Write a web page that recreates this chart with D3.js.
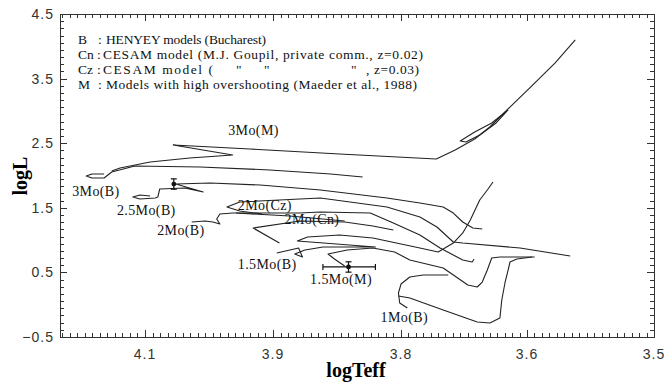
<!DOCTYPE html>
<html>
<head>
<meta charset="utf-8">
<script src="https://cdn.jsdelivr.net/npm/d3@7/dist/d3.min.js"></script>
<style>
  body { margin: 0; background: #fff; }
  svg { display: block; }
</style>
</head>
<body>
<div id="chart"></div>
<script>
// axis ticks as printed on the original figure (note the uneven logTeff labels)
const xTicks = [4.1, 3.9, 3.8, 3.6, 3.5];
const yTicks = [4.5, 3.5, 2.5, 1.5, 0.5, -0.5];

// legend
const legendKeys = ['B', 'Cn', 'Cz', 'M'];
const legendTexts = [
  'HENYEY models (Bucharest)',
  'CESAM model (M.J. Goupil, private comm., z=0.02)',
  'CESAM model (',
  'Models with high overshooting (Maeder et al., 1988)'
];

// evolutionary tracks, [logTeff, logL]
const track3MoB = [[4.164,2.023],[4.183,2.023],[4.192,1.992],[4.183,1.961],[4.164,1.961],
  [4.152,2.054],[4.116,2.147],[4.014,2.132],[3.905,2.085],[3.855,2.023],[3.830,1.977]];
const track3MoM = [[4.152,2.070],[4.139,2.116],[4.092,2.209],[4.030,2.271],[3.963,2.317],
  [4.056,2.472],[3.936,2.410],[3.848,2.333],[3.744,2.255],[3.714,2.395],[3.683,2.565],
  [3.659,2.751],[3.635,2.983],[3.598,3.354],[3.578,3.741],[3.562,4.098]];
const loop3MoM = [[3.632,2.998],[3.656,2.813],[3.683,2.673],[3.706,2.534],[3.697,2.519],
  [3.675,2.627],[3.649,2.813],[3.630,3.014]];
const track25MoB = [[4.092,1.683],[4.108,1.698],[4.119,1.667],[4.108,1.636],[4.084,1.652],
  [4.080,1.667],[4.077,1.791],[4.038,1.807],[4.009,1.745],[4.052,1.868],[3.998,1.884],
  [3.920,1.853],[3.863,1.776],[3.811,1.652],[3.770,1.574],[3.733,1.512],[3.717,1.419],
  [3.702,1.280],[3.686,1.187],[3.671,1.172]];
const track2MoCz = [[3.917,1.404],[3.952,1.450],[3.972,1.512],[3.952,1.590],[3.879,1.636],
  [3.863,1.652],[3.811,1.512],[3.770,1.358],[3.743,1.203],[3.717,0.971],[3.702,0.955],
  [3.611,0.878],[3.566,0.754]];
const track2MoB = [[4.027,1.280],[4.006,1.296],[3.994,1.280],[3.983,1.249],[3.988,1.327],
  [3.983,1.404],[3.963,1.419],[3.879,1.419],[3.863,1.435],[3.824,1.419],[3.806,1.265],
  [3.770,1.079],[3.738,0.878],[3.717,0.769],[3.702,0.692],[3.687,0.661],[3.684,0.707]];
const track2MoCn = [[3.895,0.955],[3.931,1.187],[3.879,1.296],[3.844,1.280],[3.822,1.218],
  [3.806,1.156]];
const track2MoCnMs = [[3.958,1.419],[3.887,1.373],[3.844,1.296]];
const track15MoB = [[3.897,0.800],[3.880,0.878],[3.877,0.738],[3.883,0.785],[3.875,0.847],
  [3.861,0.893],[3.848,0.893],[3.820,0.893],[3.881,0.986],[3.873,1.048],[3.848,1.079],
  [3.822,1.032],[3.770,0.878],[3.741,0.816],[3.717,0.955],[3.702,1.110],[3.690,1.311],
  [3.675,1.621],[3.663,1.776],[3.654,1.899]];
const track15MoM = [[3.844,0.599],[3.852,0.707],[3.857,0.785],[3.842,0.847],[3.822,0.878],
  [3.805,0.816],[3.786,0.692],[3.733,0.568],[3.710,0.413],[3.694,0.305],[3.679,0.274],
  [3.671,0.351],[3.663,0.537],[3.656,0.723],[3.643,0.738],[3.594,0.738]];
const track1MoB = [[3.725,0.460],[3.765,0.460],[3.786,0.429],[3.800,0.320],[3.802,0.181],
  [3.801,0.026],[3.790,-0.051]];
const track1MoBRgb = [[3.802,0.135],[3.786,0.104],[3.733,-0.082],[3.679,-0.268],[3.659,-0.283],
  [3.643,-0.206],[3.640,0.073],[3.635,0.336],[3.630,0.537],[3.627,0.661],[3.616,0.707],
  [3.596,0.738]];

// track labels: text, logTeff, logL (start / baseline)
const trackLabels = [
  ['3Mo(M)', 3.970, 2.627], ['3Mo(B)', 4.214, 1.683], ['2.5Mo(B)', 4.144, 1.389],
  ['2Mo(B)', 4.081, 1.079], ['2Mo(Cz)', 3.955, 1.466], ['2Mo(Cn)', 3.891, 1.249],
  ['1.5Mo(B)', 3.955, 0.553], ['1.5Mo(M)', 3.871, 0.320], ['1Mo(B)', 3.816, -0.268]
];

// observed stars: logTeff, logL, teff low, teff high, logL error
const stars = [
  [4.055, 1.868, 4.055, 4.055, 0.08],
  [3.841, 0.584, 3.861, 3.820, 0.08]
];

const width = 665, height = 390;
const m = { left: 60, right: 654, top: 14, bottom: 337 };

const svg = d3.select('#chart').append('svg')
  .attr('width', width)
  .attr('height', height);

// the printed logTeff labels are not evenly spaced, so the scale is piecewise
const x = d3.scaleLinear()
  .domain([4.233, 4.1, 3.9, 3.8, 3.6, 3.5])
  .range([m.left, 145, 273, 401, 527, m.right]);
const y = d3.scaleLinear().domain([-0.5, 4.5]).range([m.bottom, m.top]);

// minor ticks
const xMinor = [];
for (let i = 0; i < xTicks.length - 1; i++) {
  const a = xTicks[i], b = xTicks[i + 1];
  for (let k = 1; k < 17; k++) xMinor.push(a + (b - a) * k / 17);
}
for (let k = 1; k < 12; k++) xMinor.push(4.1 + 0.2 * k / 17);
const yMinor = [];
for (let i = 0; i < yTicks.length - 1; i++) {
  for (let k = 1; k < 9; k++) yMinor.push(yTicks[i] - k / 9);
}

const axisColor = '#333';
const ticks = svg.append('g').attr('stroke', axisColor).attr('stroke-width', 1);

function xTick(v, len) {
  const px = Math.round(x(v)) + 0.5;
  ticks.append('line').attr('x1', px).attr('x2', px).attr('y1', m.top).attr('y2', m.top + len);
  ticks.append('line').attr('x1', px).attr('x2', px).attr('y1', m.bottom).attr('y2', m.bottom - len);
}
function yTick(v, len) {
  const py = Math.round(y(v)) + 0.5;
  ticks.append('line').attr('x1', m.left).attr('x2', m.left + len).attr('y1', py).attr('y2', py);
  ticks.append('line').attr('x1', m.right).attr('x2', m.right - len).attr('y1', py).attr('y2', py);
}
xMinor.forEach(v => xTick(v, 4));
xTicks.forEach(v => xTick(v, 7));
yMinor.forEach(v => yTick(v, 4));
yTicks.forEach(v => yTick(v, 7));

svg.append('rect')
  .attr('x', m.left + 0.5).attr('y', m.top + 0.5)
  .attr('width', m.right - m.left).attr('height', m.bottom - m.top)
  .attr('fill', 'none').attr('stroke', axisColor);

// tick labels
const tickFont = '"Liberation Sans", Arial, sans-serif';
svg.append('g').selectAll('text').data(xTicks).join('text')
  .attr('x', d => x(d)).attr('y', 359)
  .attr('text-anchor', 'middle')
  .attr('font-family', tickFont).attr('font-size', 14).attr('fill', '#333')
  .attr('letter-spacing', 1)
  .text(d => d3.format('.1f')(d));
svg.append('g').selectAll('text').data(yTicks).join('text')
  .attr('x', 54).attr('y', d => y(d) + 5)
  .attr('text-anchor', 'end')
  .attr('font-family', tickFont).attr('font-size', 14).attr('fill', '#333')
  .attr('letter-spacing', 1)
  .text(d => d3.format('.1f')(d));

// axis titles
const serif = '"Liberation Serif", "Times New Roman", serif';
svg.append('text')
  .attr('x', 356).attr('y', 377)
  .attr('text-anchor', 'middle')
  .attr('font-family', serif).attr('font-size', 20).attr('font-weight', 'bold')
  .text('logTeff');
svg.append('text')
  .attr('transform', 'translate(27,176) rotate(-90)')
  .attr('text-anchor', 'middle')
  .attr('font-family', serif).attr('font-size', 20).attr('font-weight', 'bold')
  .text('logL');

// legend
const legend = svg.append('g').attr('font-family', serif).attr('font-size', 13.5).attr('fill', '#111');
const colonX = [98, 97, 97, 98];
const textX = [106, 103, 103, 106];
const textLen = [160, 320, 110, 311];
legendKeys.forEach((k, i) => {
  const ly = 44 + i * 15;
  legend.append('text').attr('x', 78).attr('y', ly).text(k);
  legend.append('text').attr('x', colonX[i]).attr('y', ly).text(':');
  legend.append('text').attr('x', textX[i]).attr('y', ly)
    .attr('textLength', textLen[i]).attr('lengthAdjust', 'spacing')
    .text(legendTexts[i]);
});
[236, 264, 351].forEach(qx => {
  legend.append('text').attr('x', qx).attr('y', 44 + 2 * 15).text('"');
});
legend.append('text').attr('x', 366).attr('y', 44 + 2 * 15)
  .attr('textLength', 53).attr('lengthAdjust', 'spacing').text(', z=0.03)');

// tracks
const line = d3.line().x(d => x(d[0])).y(d => y(d[1]));
const allTracks = [track3MoB, track3MoM, loop3MoM, track25MoB, track2MoCz, track2MoB,
  track2MoCn, track2MoCnMs, track15MoB, track15MoM, track1MoB, track1MoBRgb];
svg.append('g').selectAll('path').data(allTracks).join('path')
  .attr('d', line)
  .attr('fill', 'none')
  .attr('stroke', '#222')
  .attr('stroke-width', 1.1)
  .attr('stroke-linejoin', 'round');

// observed stars with error bars
const eb = svg.append('g').attr('stroke', '#111').attr('stroke-width', 1.2);
stars.forEach(s => {
  const cx = x(s[0]), cy = y(s[1]);
  const y0 = y(s[1] - s[4]), y1 = y(s[1] + s[4]);
  eb.append('line').attr('x1', cx).attr('x2', cx).attr('y1', y0).attr('y2', y1);
  eb.append('line').attr('x1', cx - 3).attr('x2', cx + 3).attr('y1', y0).attr('y2', y0);
  eb.append('line').attr('x1', cx - 3).attr('x2', cx + 3).attr('y1', y1).attr('y2', y1);
  if (s[2] !== s[3]) {
    const xa = x(s[2]), xb = x(s[3]);
    eb.append('line').attr('x1', xa).attr('x2', xb).attr('y1', cy).attr('y2', cy);
    eb.append('line').attr('x1', xa).attr('x2', xa).attr('y1', cy - 3).attr('y2', cy + 3);
    eb.append('line').attr('x1', xb).attr('x2', xb).attr('y1', cy - 3).attr('y2', cy + 3);
  }
  eb.append('circle').attr('cx', cx).attr('cy', cy).attr('r', 1.8).attr('fill', '#111');
});

// track labels
svg.append('g').selectAll('text').data(trackLabels).join('text')
  .attr('x', d => x(d[1])).attr('y', d => y(d[2]))
  .attr('font-family', serif).attr('font-size', 14).attr('fill', '#111')
  .attr('letter-spacing', 0.4)
  .text(d => d[0]);
</script>
</body>
</html>
